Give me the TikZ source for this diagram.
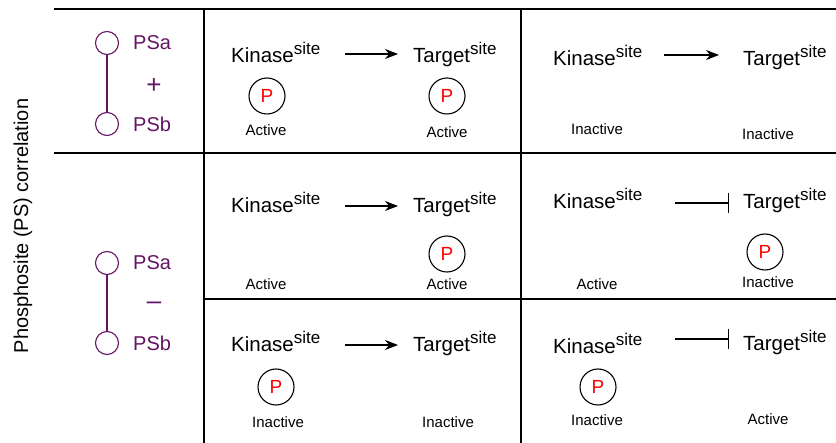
\documentclass[tikz,border=0pt]{standalone}
\usepackage{fontspec}
\setmainfont{Liberation Sans}
\usetikzlibrary{arrows.meta}

\definecolor{pspurple}{RGB}{100,20,100}
\newcommand{\withsite}[1]{#1\raisebox{8pt}{\fontsize{17}{17}\selectfont site}}

\begin{document}
\begin{tikzpicture}[x=1pt,y=-1pt,
	lbl/.style={inner sep=0pt, anchor=base west, font=\fontsize{20.5}{24}\selectfont},
	phos/.style={draw, circle, minimum size=36pt, inner sep=0pt, line width=1.1pt, text=red, font=\fontsize{19}{22}\selectfont},
	state/.style={inner sep=0pt, font=\fontsize{15}{18}\selectfont},
	act/.style={-{Stealth[length=13pt,width=10pt]}, line width=1.2pt},
	inh/.style={-{Bar[width=20pt]}, line width=1.2pt},
	psnode/.style={draw=pspurple, circle, minimum size=23pt, inner sep=0pt, line width=1.1pt},
	pstext/.style={text=pspurple, inner sep=0pt, font=\fontsize{20}{24}\selectfont},
	pssign/.style={text=pspurple, inner sep=0pt, font=\fontsize{26}{28}\selectfont},
	gridthick/.style={line width=2.8pt},
	gridthin/.style={line width=1.3pt}]
	% Frame
	\useasboundingbox (0,0) rectangle (836,443);

	\draw[gridthick] (54,9) -- (836,9);
	\draw[gridthick] (54,153) -- (836,153);
	\draw[gridthick] (204,9) -- (204,443);
	\draw[gridthin] (521,9) -- (521,443);
	\draw[gridthin] (204,299) -- (836,299);

	\node[rotate=90, inner sep=0pt, font=\fontsize{20}{24}\selectfont] (ylab) at (23,226) {Phosphosite (PS) correlation};

	% positive correlation
	\node[psnode] (psa_1) at (107,43) {};
	\node[psnode] (psb_1) at (107,124) {};
	\draw[pspurple, line width=1.1pt] (psa_1) -- (psb_1);
	\node[pstext, anchor=west] (psa_1t) at (133,43) {PSa};
	\node[pstext, anchor=west] (psb_1t) at (133,124) {PSb};
	\node[pssign] (plus) at (154,86) {+};

	% negative correlation
	\node[psnode] (psa_2) at (107,263) {};
	\node[psnode] (psb_2) at (107,343) {};
	\draw[pspurple, line width=1.1pt] (psa_2) -- (psb_2);
	\node[pstext, anchor=west] (psa_2t) at (133,263) {PSa};
	\node[pstext, anchor=west] (psb_2t) at (133,343) {PSb};
	\node[pssign] (minus) at (154,306) {\textendash};

	% row 1
	\node[lbl] (k_1) at (231,63) {\withsite{Kinase}};
	\node[lbl] (t_1) at (413,63) {\withsite{Target}};
	\draw[act, shorten <=24pt, shorten >=15pt] ([yshift=9pt]k_1.base east) -- ([yshift=9pt]t_1.base west);
	\node[phos] (pk_1) at (267,96) {P};
	\node[phos] (pt_1) at (447,96) {P};
	\node[state] (sk_1) at (266,130) {Active};
	\node[state] (st_1) at (447,132) {Active};

	\node[lbl] (k_2) at (553,66) {\withsite{Kinase}};
	\node[lbl] (t_2) at (743,66) {\withsite{Target}};
	\draw[act, shorten <=21pt, shorten >=24pt] ([yshift=11pt]k_2.base east) -- ([yshift=11pt]t_2.base west);
	\node[state] (sk_2) at (597,129) {Inactive};
	\node[state] (st_2) at (768,134) {Inactive};

	% row 2
	\node[lbl] (k_3) at (231,213) {\withsite{Kinase}};
	\node[lbl] (t_3) at (413,213) {\withsite{Target}};
	\draw[act, shorten <=24pt, shorten >=15pt] ([yshift=7pt]k_3.base east) -- ([yshift=7pt]t_3.base west);
	\node[phos] (pt_3) at (447,254) {P};
	\node[state] (sk_3) at (266,284) {Active};
	\node[state] (st_3) at (447,284) {Active};

	\node[lbl] (k_4) at (553,209) {\withsite{Kinase}};
	\node[lbl] (t_4) at (743,209) {\withsite{Target}};
	\draw[inh, shorten <=32pt, shorten >=14pt] ([yshift=6pt]k_4.base east) -- ([yshift=6pt]t_4.base west);
	\node[phos] (pt_4) at (765,252) {P};
	\node[state] (sk_4) at (597,284) {Active};
	\node[state] (st_4) at (768,282) {Inactive};

	% row 3
	\node[lbl] (k_5) at (231,352) {\withsite{Kinase}};
	\node[lbl] (t_5) at (413,352) {\withsite{Target}};
	\draw[act, shorten <=24pt, shorten >=15pt] ([yshift=7pt]k_5.base east) -- ([yshift=7pt]t_5.base west);
	\node[phos] (pk_5) at (276,387) {P};
	\node[state] (sk_5) at (278,422) {Inactive};
	\node[state] (st_5) at (448,422) {Inactive};

	\node[lbl] (k_6) at (553,354) {\withsite{Kinase}};
	\node[lbl] (t_6) at (743,351) {\withsite{Target}};
	\draw[inh, shorten <=32pt, shorten >=14pt] ([yshift=15pt]k_6.base east) -- ([yshift=12pt]t_6.base west);
	\node[phos] (pk_6) at (598,387) {P};
	\node[state] (sk_6) at (597,420) {Inactive};
	\node[state] (st_6) at (768,419) {Active};

\end{tikzpicture}
\end{document}
